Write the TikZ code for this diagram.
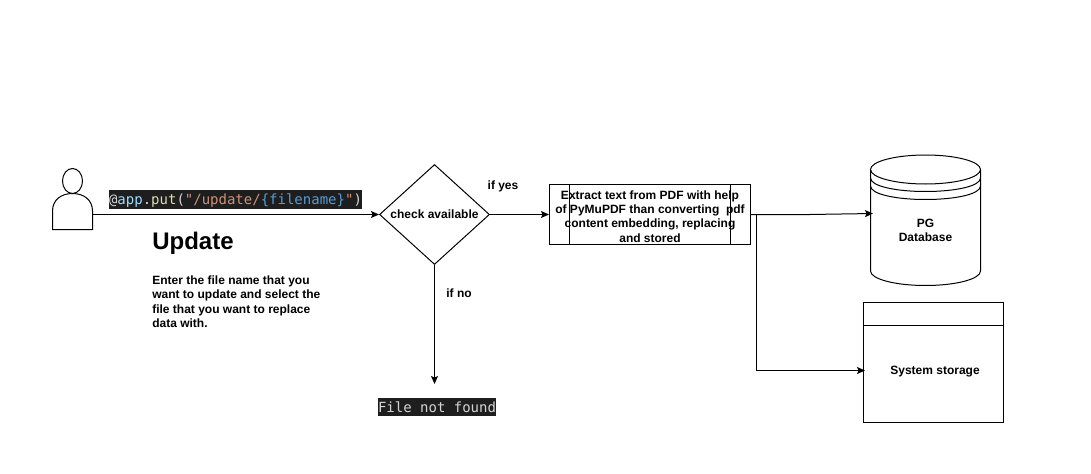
\documentclass[tikz,border=0pt]{standalone}
\usepackage{fontspec}
\setmainfont{Liberation Sans}
\newfontfamily\codefont{DejaVu Sans Mono}
\usepackage{xcolor}
\usetikzlibrary{shapes,positioning,calc,arrows.meta}
\definecolor{codebg}{HTML}{1E1E1E}
\definecolor{codetext}{HTML}{D4D4D4}
\definecolor{codevar}{HTML}{9CDCFE}
\definecolor{codefunc}{HTML}{DCDCAA}
\definecolor{codestr}{HTML}{CE9178}
\definecolor{codekey}{HTML}{569CD6}
\def\px{0.75pt}
\tikzset{
    shape line/.style={line width=1*\px, draw=black},
    flow/.style={line width=1*\px, -{Stealth[length=8*\px,width=7*\px,inset=1.5*\px]}},
    label text/.style={font=\bfseries\fontsize{9pt}{10.8pt}\selectfont, align=center, inner sep=0pt},
    code text/.style={font=\codefont\fontsize{10.5pt}{12pt}\selectfont, fill=codebg, text=codetext, inner sep=0pt, text height=12*\px, text depth=3*\px}
}
\begin{document}
\begin{tikzpicture}[x=0.75pt, y=-0.75pt]
    \useasboundingbox (0,0) rectangle (1091,474);

    % User figure
    \draw [shape line] (52.5,229.5) -- (52.5,211) .. controls (52.5,200) and (61,193.5) .. (72.5,193.5) .. controls (84,193.5) and (92.5,200) .. (92.5,211) -- (92.5,229.5) -- cycle;
    \draw [shape line, fill=white] (72.5,181) ellipse [x radius=10, y radius=12.5];
    \coordinate (user) at (92.5,214.5);

    % Request and title
    \node [code text, minimum width=253*\px, minimum height=19*\px] (route) at (235.5,199.5) {\textcolor{codetext}{@}\textcolor{codevar}{app}.\textcolor{codefunc}{put}(\textcolor{codestr}{"/update/}\textcolor{codekey}{\{filename\}}\textcolor{codestr}{"})};
    \node [anchor=west, inner sep=0pt, font=\bfseries\fontsize{18pt}{21pt}\selectfont] (title) at (152,243.5) {Update};
    \node [anchor=north west, label text, align=left] (desc) at (152,275.5) {Enter the file name that you\\want to update and select the\\file that you want to replace\\data with.};

    % Check
    \node [diamond, shape line, aspect=1.1, inner sep=0pt, minimum width=110*\px, minimum height=100*\px, label text] (check) at (434.5,214.5) {check available};
    \node [label text] (ifyes) at (503,186) {if yes};
    \node [label text] (ifno) at (459,293) {if no};

    % Processing box
    \draw [shape line] (569.5,184.5) -- (569.5,244.5);
    \draw [shape line] (730.5,184.5) -- (730.5,244.5);
    \node [shape line, rectangle, minimum width=201*\px, minimum height=60*\px] (process) at (650,214.5) {};
    \node [label text] (processtext) at (650,216.5) {Extract text from PDF with help\\of PyMuPDF than converting\ \ pdf\\content embedding, replacing\\and stored};

    % Not found
    \coordinate (nofile) at (434.5,384);
    \node [code text, text height=14*\px, minimum width=118*\px, minimum height=18*\px] (notfound) at (437,407) {File not found};

    % PG database
    \draw [shape line] (870.5,170) -- (870.5,271) .. controls (870.5,279) and (895,285.5) .. (925.5,285.5) .. controls (956,285.5) and (980.5,279) .. (980.5,271) -- (980.5,170);
    \draw [shape line] (925.5,169.5) ellipse [x radius=55, y radius=14.5];
    \draw [shape line] (870.5,178) .. controls (870.5,186) and (895,191.5) .. (925.5,191.5) .. controls (956,191.5) and (980.5,186) .. (980.5,178);
    \draw [shape line] (870.5,186) .. controls (870.5,194) and (895,199.5) .. (925.5,199.5) .. controls (956,199.5) and (980.5,194) .. (980.5,186);
    \node [label text] (pgdb) at (925.5,230.5) {PG\\Database};
    \coordinate (dbin) at (873,213.5);

    % System storage
    \node [shape line, rectangle, minimum width=140*\px, minimum height=120*\px] (storage) at (933.5,362.5) {};
    \draw [shape line] (storage.west |- 0,325.5) -- (storage.east |- 0,325.5);
    \node [label text] (storagetext) at (935,372) {System storage};
    \coordinate (storein) at (865,370.5);

    % Connectors
    \draw [flow] (user) -- (check.west);
    \draw [flow] (check.east) -- (process.west);
    \draw [flow] (check.south) -- (nofile);
    \draw [flow] (process.east) -- (810,214.5) -- (dbin);
    \draw [flow] (process.east) -- (756.5,214.5) -- (756.5,370.5) -- (storein);
\end{tikzpicture}
\end{document}
